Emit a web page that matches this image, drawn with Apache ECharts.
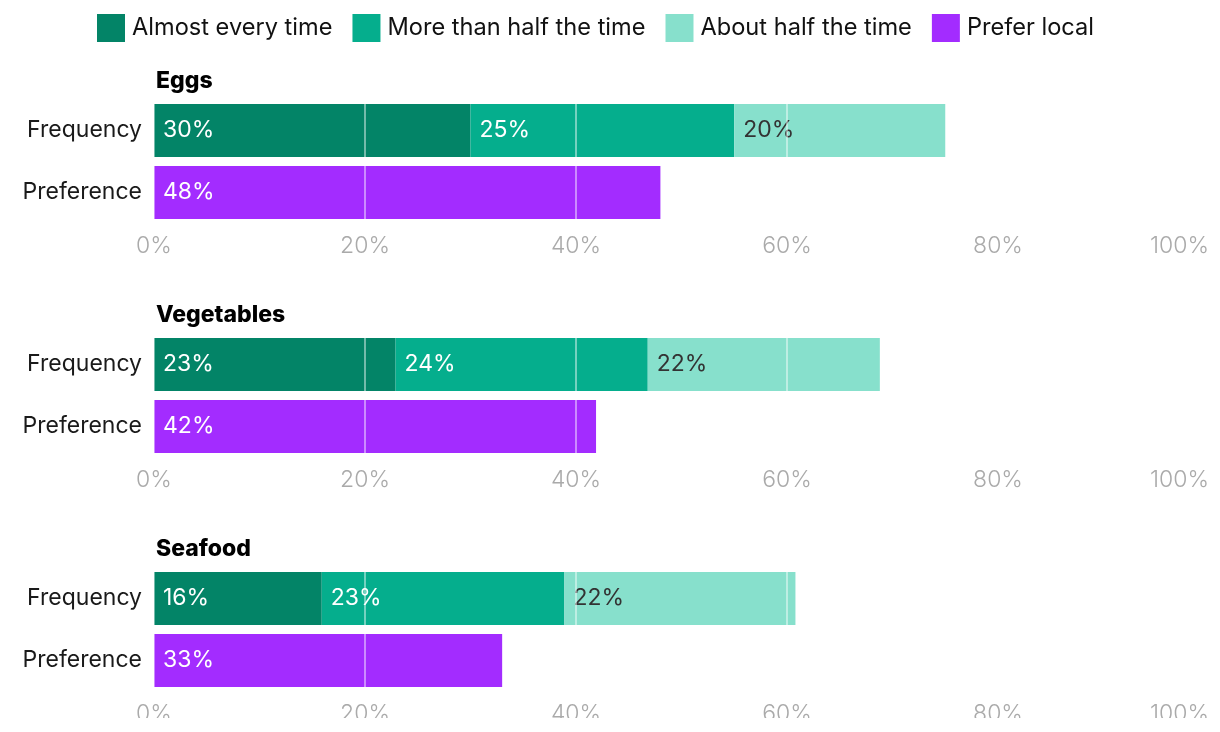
<!DOCTYPE html>
<html><head><meta charset="utf-8">
<script src="https://cdn.jsdelivr.net/npm/echarts@6/dist/echarts.min.js"></script>
<style>html,body{margin:0;padding:0;background:#fff}#c{width:1220px;height:718px}</style>
</head><body><div id="c"></div>
<script>
const groups = ['Eggs', 'Vegetables', 'Seafood'];
const rows = ['Frequency', 'Preference'];
const almostEvery = [30, 22.9, 15.9];
const moreThanHalf = [25, 23.9, 23.0];
const aboutHalf = [20, 22.0, 21.9];
const preferLocal = [48, 41.9, 33.0];
const ticks = [0, 20, 40, 60, 80, 100];

const names = ['Almost every time', 'More than half the time', 'About half the time', 'Prefer local'];
const colors = ['#038467', '#05ae8d', '#87e0cc', '#a32cff'];
const labelColors = ['#fff', '#fff', '#333', '#fff'];
const FONT = 'Inter';
const tops = [99.5, 333.5, 567.5];

const grid = [], xAxis = [], yAxis = [], series = [], title = [];
groups.forEach((g, i) => {
  grid.push({ left: 154, right: 11, top: tops[i], height: 124, outerBoundsMode: 'none', containLabel: false });
  title.push({ text: g, left: 151, top: tops[i] - 35, textStyle: { fontFamily: FONT, fontSize: 23, fontWeight: 800, color: '#000' } });
  xAxis.push({
    type: 'value', gridIndex: i, min: ticks[0], max: ticks[ticks.length - 1], interval: 20, z: 5,
    axisLine: { show: false }, axisTick: { show: false },
    splitLine: { show: true, lineStyle: { color: 'rgba(255,255,255,0.45)', width: 2 } },
    axisLabel: { formatter: '{value}%', color: '#aaa', fontFamily: FONT, fontSize: 23, fontWeight: 300, margin: 11, alignMaxLabel: 'right' }
  });
  yAxis.push({
    type: 'category', gridIndex: i, data: rows, inverse: true,
    axisLine: { show: false }, axisTick: { show: false },
    axisLabel: { color: '#1a1a1a', fontFamily: FONT, fontSize: 23, margin: 12, padding: [5, 0, 0, 0] }
  });
  const vals = [almostEvery[i], moreThanHalf[i], aboutHalf[i]];
  vals.forEach((v, k) => {
    series.push({
      name: names[k], type: 'bar', stack: 's' + i, xAxisIndex: i, yAxisIndex: i,
      barWidth: 53, data: [v, null], itemStyle: { color: colors[k] },
      label: { show: true, position: 'insideLeft', distance: 9, color: labelColors[k], fontFamily: FONT, fontSize: 23,
        padding: [2, 0, 0, 0], formatter: p => Math.round(p.value) + '%' }
    });
  });
  series.push({
    name: names[3], type: 'bar', stack: 's' + i, xAxisIndex: i, yAxisIndex: i,
    barWidth: 53, data: [null, preferLocal[i]], itemStyle: { color: colors[3] },
    label: { show: true, position: 'insideLeft', distance: 9, color: '#fff', fontFamily: FONT, fontSize: 23,
      padding: [2, 0, 0, 0], formatter: p => Math.round(p.value) + '%' }
  });
});

const chart = echarts.init(document.getElementById('c'), null, { renderer: 'canvas' });
chart.setOption({
  animation: false,
  backgroundColor: '#fff',
  title,
  legend: {
    top: 14, left: 97, itemWidth: 28, itemHeight: 28, itemGap: 20, padding: 0,
    icon: 'rect', data: names, selectedMode: false,
    textStyle: { fontFamily: FONT, fontSize: 23.6, color: '#111', padding: [2, 0, 0, 2] }
  },
  grid, xAxis, yAxis, series
});
</script></body></html>
